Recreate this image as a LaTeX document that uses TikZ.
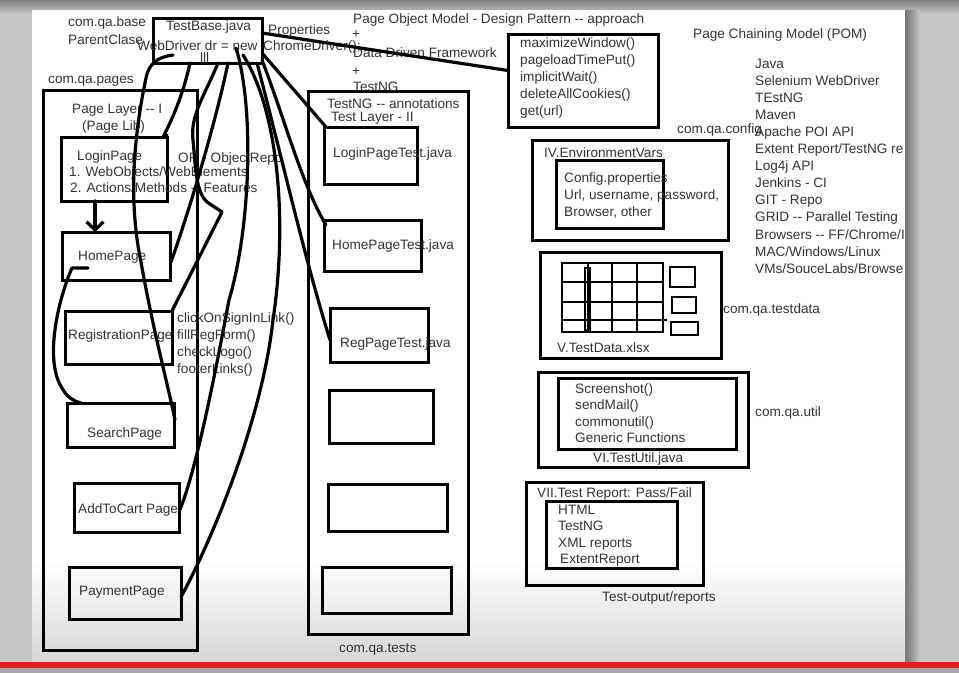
\documentclass[tikz,border=0pt]{standalone}
\usepackage{fontspec}
\setmainfont{Liberation Sans}
\usetikzlibrary{calc,arrows.meta}
\definecolor{txtc}{HTML}{333333}
\definecolor{bgc}{HTML}{C6C6C6}
\definecolor{redbar}{HTML}{E01E1E}
\newcommand\fs{\fontsize{13.6}{17}\selectfont}
\tikzset{
  txt/.style={anchor=base west, inner sep=0pt, font=\fs, text=txtc},
  frame/.style={draw=black, line width=3pt, inner sep=0pt, outer sep=0pt, anchor=north west},
  wire/.style={draw=black, line width=3.2pt, line cap=round, line join=round},
  gridline/.style={draw=black, line width=2.8pt},
}
\begin{document}
\begin{tikzpicture}[x=1pt,y=-1pt]
\useasboundingbox (0,0) rectangle (959,673);
% ---------- background ----------
\fill[bgc] (0,0) rectangle (959,673);
\shade[top color=black!50, bottom color=bgc] (0,0) rectangle (959,14);
\shade[left color=black!55, right color=bgc] (905,10) rectangle (920,662);
\fill[white] (32,10) rectangle (905,662);
\shade[top color=white, bottom color=black!16] (32,560) rectangle (905,662);
\fill[redbar] (0,662) rectangle (959,668);
\fill[black!35] (0,668) rectangle (959,673);

% ---------- boxes ----------
\node[frame, minimum width=109, minimum height=45] (tb) at (153,18) {};
\node[frame, minimum width=150, minimum height=93] (maxbox) at (508,34) {};
\node[frame, minimum width=154, minimum height=560] (pagel) at (43,90) {};
\node[frame, minimum width=106, minimum height=64] (login) at (61,137) {};
\node[frame, minimum width=108, minimum height=48] (home) at (62,232) {};
\node[frame, minimum width=107, minimum height=53] (reg) at (65,311) {};
\node[frame, minimum width=107, minimum height=44] (search) at (67,403) {};
\node[frame, minimum width=105, minimum height=49] (cart) at (74,483) {};
\node[frame, minimum width=112, minimum height=52] (pay) at (69,567) {};
\node[frame, minimum width=160, minimum height=543] (testl) at (308,91) {};
\node[frame, minimum width=93, minimum height=57] (lpt) at (324,127) {};
\node[frame, minimum width=97, minimum height=51] (hpt) at (324,220) {};
\node[frame, minimum width=98, minimum height=54] (rpt) at (330,308) {};
\node[frame, minimum width=104, minimum height=53] (e1) at (329,390) {};
\node[frame, minimum width=119, minimum height=47] (e2) at (328,484) {};
\node[frame, minimum width=129, minimum height=46] (e3) at (322,567) {};
\node[frame, minimum width=196, minimum height=100] (env) at (532,140) {};
\node[frame, minimum width=107, minimum height=68] (envin) at (556,160) {};
\node[frame, minimum width=181, minimum height=106] (tdata) at (540,252) {};
\node[frame, minimum width=210, minimum height=95] (util) at (538,372) {};
\node[frame, minimum width=178, minimum height=71] (utilin) at (558,378) {};
\node[frame, minimum width=177, minimum height=103] (rep) at (526,482) {};
\node[frame, minimum width=131, minimum height=67] (repin) at (546,501) {};

% spreadsheet sketch
\draw[gridline] (562,263) rectangle (663,332);
\foreach \x in {588,612,637} \draw[gridline] (\x,263) -- (\x,332);
\foreach \y in {282,302} \draw[gridline] (562,\y) -- (663,\y);
\draw[gridline] (562,320) -- (667,320);
\draw[gridline] (585,268) rectangle (590,330);
\draw[gridline] (670,267) rectangle (695,287);
\draw[gridline] (672,297) rectangle (696,313);
\draw[gridline] (671,322) rectangle (698,335);

% ---------- texts ----------
\node[txt] (cqb) at (68,26) {com.qa.base};
\node[txt] (pcl) at (68,44) {ParentClase};
\node[txt] (tbj) at (166,30) {TestBase.java};
\node[txt] (wdr) at (137,50) {WebDriver dr = new};
\node[txt] (lll) at (200,62) {lll};
\node[txt] (prop) at (268,34) {Properties};
\node[txt] (chd) at (263,50) {ChromeDriver();};
\node[txt] (pom) at (353,23) {Page Object Model - Design Pattern -{}- approach};
\node[txt] (pl1) at (352,38) {+};
\node[txt] (ddf) at (353,57) {Data Driven Framework};
\node[txt] (pl2) at (352,75) {+};
\node[txt] (tng) at (353,91) {TestNG};
\node[txt] (cqp) at (48,83) {com.qa.pages};
\foreach \t [count=\i] in {maximizeWindow(), pageloadTimePut(), implicitWait(), deleteAllCookies(), get(url)}
  \node[txt] (mx\i) at (520,{47+17*(\i-1)}) {\t};
\node[txt] (pcm) at (693,38) {Page Chaining Model (POM)};
\begin{scope}
\clip (32,10) rectangle (903,662);
\foreach \t [count=\i] in {Java, Selenium WebDriver, TEstNG, Maven, Apache POI API, Extent Report/TestNG reports, Log4j API, Jenkins - CI, GIT - Repo, GRID -{}- Parallel Testing, Browsers -{}- FF/Chrome/IE, MAC/Windows/Linux, VMs/SouceLabs/BrowserStack}
  \node[txt] (tech\i) at (755,{68+17.1*(\i-1)}) {\t};
\end{scope}
\node[txt] (cqc) at (677,133) {com.qa.config};
\node[txt] (iv) at (544,157) {IV.EnvironmentVars};
\foreach \t [count=\i] in {Config.properties, {Url, username, password,}, {Browser, other}}
  \node[txt] (cfg\i) at (564,{182+17*(\i-1)}) {\t};
\node[txt] (vtd) at (557,352) {V.TestData.xlsx};
\node[txt] (cqtd) at (723,313) {com.qa.testdata};
\foreach \t [count=\i] in {Screenshot(), sendMail(), commonutil(), Generic Functions}
  \node[txt] (ut\i) at (575,{393+16.5*(\i-1)}) {\t};
\node[txt] (vitu) at (593,462) {VI.TestUtil.java};
\node[txt] (cqu) at (755,416) {com.qa.util};
\node[txt] (vii) at (537,497) {VII.Test Report: Pass/Fail};
\foreach \t [count=\i] in {HTML, TestNG, XML reports, ExtentReport}
  \node[txt] (rp\i) at ({\i==4 ? 560 : 558},{514+16.5*(\i-1)}) {\t};
\node[txt] (tor) at (602,601) {Test-output/reports};
\node[txt] (plI) at (72,113) {Page Layer -{}- I};
\node[txt] (plib) at (82,130) {(Page Lib)};
\node[txt] (lpg) at (77,160) {LoginPage};
\node[txt] (wo) at (69,176) {1. WebObjects/WebElements};
\node[txt] (am) at (70,192) {2. Actions/Methods -{}- Features};
\node[txt] (orr) at (178,162) {OR - ObjectRepo};
\node[txt] (hpg) at (78,260) {HomePage};
\node[txt] (rpg) at (68,339) {RegistrationPage};
\foreach \t [count=\i] in {clickOnSignInLink(), fillRegForm(), checkLogo(), footerLinks()}
  \node[txt] (act\i) at (177,{322+17.3*(\i-1)}) {\t};
\node[txt] (spg) at (87,437) {SearchPage};
\node[txt] (cpg) at (78,513) {AddToCart Page};
\node[txt] (ppg) at (79,595) {PaymentPage};
\node[txt] (tna) at (327,108) {TestNG -{}- annotations};
\node[txt] (tl2) at (331,121) {Test Layer - II};
\node[txt] (lptj) at (333,157) {LoginPageTest.java};
\node[txt] (hptj) at (332,249) {HomePageTest.java};
\node[txt] (rptj) at (340,347) {RegPageTest.java};
\node[txt] (cqt) at (339,652) {com.qa.tests};

% ---------- connectors ----------
\draw[wire] ($(tb.north east)+(0,15)$) -- ($(maxbox.west)+(0,-10)$);
% to page classes
\draw[wire] ($(tb.south west)+(20,-8)$) .. controls (158,57) and (149,63) .. (146,78)
  .. controls (134,135) and (128,200) .. (141,262)
  .. controls (153,330) and (168,385) .. ($(search.north east)+(1,17)$);
\draw[wire] ($(tb.south west)+(37,0)$) .. controls (183,95) and (172,120) .. ($(login.north east)+(-4,0)$) -- ($(login.north east)+(0,-2)$);
\draw[wire] ($(tb.south west)+(75,0)$) .. controls (214,130) and (186,220) .. ($(home.east)+(1,6)$);
\draw[wire] ($(tb.south west)+(65,0)$) .. controls (205,95) and (190,115) .. (193,140)
  .. controls (196,172) and (196,196) .. (210,204) -- (222,212) -- (reg.north east);
\draw[wire] ($(tb.south west)+(83,-15)$) .. controls (255,110) and (250,230) .. (229,300)
  .. controls (214,380) and (196,470) .. ($(cart.east)+(1,2)$);
\draw[wire] ($(tb.south west)+(90,-8)$) .. controls (278,110) and (288,220) .. (273,320)
  .. controls (262,420) and (212,540) .. ($(pay.east)+(0,4)$);
% to test classes
\draw[wire] ($(tb.south east)+(0,-10)$) -- ($(lpt.north west)+(2,0)$);
\draw[wire] ($(tb.south east)+(0,-3)$) .. controls (285,120) and (302,185) .. ($(hpt.north west)+(2,5)$);
\draw[wire] ($(tb.south east)+(-5,0)$) .. controls (280,150) and (305,260) .. ($(rpt.west)+(0,5)$);
% page chaining
\draw[wire, -{Straight Barb[length=8pt, width=17pt]}] ($(login.south west)+(34,0)$) -- ($(home.north west)+(33,0)$);
\draw[wire] ($(home.south west)+(26,-12)$) -- ($(home.south west)+(10,-12)$)
  .. controls (58,300) and (44,360) .. (62,388)
  .. controls (67,397) and (73,401) .. ($(search.north west)+(14,0)$);
\end{tikzpicture}
\end{document}
